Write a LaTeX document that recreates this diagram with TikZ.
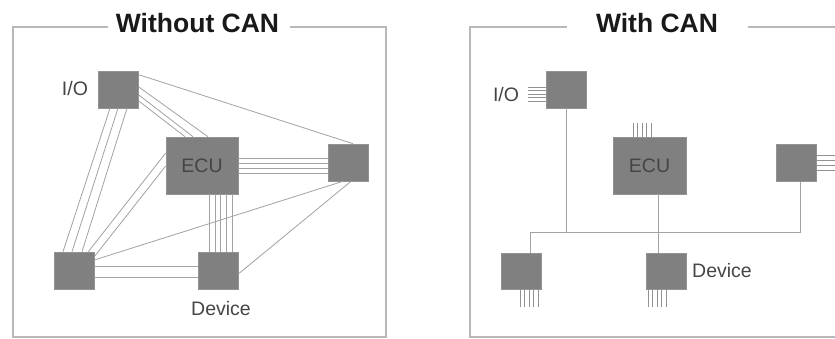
\documentclass[tikz,border=0pt]{standalone}
\usepackage{fontspec}
\setmainfont{Liberation Sans}
\usetikzlibrary{calc}
\definecolor{boxgray}{HTML}{808080}
\definecolor{wiregray}{HTML}{A2A2A2}
\definecolor{framegray}{HTML}{B8B8B8}
\definecolor{labelgray}{HTML}{454545}
\tikzset{
  chip/.style={draw=boxgray!85!white, line width=0.6pt, fill=boxgray, inner sep=0pt, minimum width=40pt, minimum height=37pt},
  bigchip/.style={chip, minimum width=72pt, minimum height=57pt},
  wire/.style={draw=wiregray, line width=0.8pt},
  pinline/.style={draw=wiregray!90!black, line width=0.7pt},
  frameline/.style={draw=framegray, line width=2.6pt},
  lbl/.style={text=labelgray, font=\fontsize{19.5}{20}\selectfont, inner sep=0pt},
  ttl/.style={text=black!90, font=\fontsize{26.5}{27}\selectfont\bfseries, inner sep=0pt}
}
\begin{document}
\begin{tikzpicture}[x=1pt,y=-1pt]
\useasboundingbox (0,0) rectangle (835,338);
\fill[white] (0,0) rectangle (835,338);

% ---------------- Left panel: Without CAN ----------------
\draw[frameline] (108,27) -- (13,27) -- (13,337) -- (386,337) -- (386,27) -- (290,27);
\node[ttl] (t1) at (197.5,23) {Without CAN};

\node[chip] (io1) at (118.5,89.5) {};
\node[bigchip] (ecu1) at (202,165.5) {};
\node[chip] (r1) at (348,162.5) {};
\node[chip] (bl1) at (74,270.5) {};
\node[chip] (dev1) at (218,271) {};

% I/O -> ECU bundle
\draw[wire] (io1.east |- 0,87) -- (ecu1.north -| 208,0);
\draw[wire] (io1.east |- 0,95) -- (ecu1.north -| 193,0);
\draw[wire] (io1.east |- 0,101) -- (ecu1.north -| 185,0);
% I/O -> bottom-left bundle
\draw[wire] (io1.south -| 110,0) -- (bl1.north -| 63,0);
\draw[wire] (io1.south -| 118,0) -- (bl1.north -| 72,0);
\draw[wire] (io1.south -| 127,0) -- (bl1.north -| 82,0);
% I/O -> right box
\draw[wire] ($(io1.north east)+(0,4)$) -- ($(r1.north)+(5,0)$);
% bottom-left -> ECU
\draw[wire] ($(bl1.north east)+(-6,0)$) -- (ecu1.west |- 0,153);
\draw[wire] ($(bl1.north east)+(0,5)$) -- (ecu1.west |- 0,166);
% bottom-left -> right box
\draw[wire] (bl1.east |- 0,260) -- ($(r1.south)+(-5,0)$);
% bottom-left -> device
\foreach \y in {266,277} \draw[wire] (bl1.east |- 0,\y) -- (dev1.west |- 0,\y);
% ECU -> device
\foreach \x in {209,215,220,226,232} \draw[wire] (ecu1.south -| \x,0) -- (dev1.north -| \x,0);
% ECU -> right box
\foreach \y in {158,163,168,173} \draw[wire] (ecu1.east |- 0,\y) -- (r1.west |- 0,\y);
% device -> right box
\draw[wire] (dev1.east |- 0,274) -- ($(r1.south)+(3,0)$);

\node[lbl] at (ecu1.center) {ECU};
\node[lbl] (iol1) at (75,89) {I/O};
\node[lbl] (devl1) at (221,309) {Device};

% ---------------- Right panel: With CAN ----------------
\draw[frameline] (567,27) -- (470,27) -- (470,337) -- (835,337);
\draw[frameline] (748,27) -- (835,27);
\node[ttl] (t2) at (657,23) {With CAN};

\node[chip] (io2) at (566,89.5) {};
\node[bigchip, minimum width=73pt] (ecu2) at (649.5,165.5) {};
\node[chip] (r2) at (796,163) {};
\node[chip, minimum height=36pt] (bl2) at (521.5,271) {};
\node[chip, minimum height=36pt] (dev2) at (666,271) {};

\coordinate (busL) at (530,232.5);
\coordinate (busR) at (800.5,232.5);
\draw[wire] (busL) -- (busR);
\draw[wire] (io2.south -| 566,0) -- (busL -| 566,0);
\draw[wire] (ecu2.south -| 658.7,0) -- (dev2.north -| 658.7,0);
\draw[wire] (busL) -- (bl2.north -| busL);
\draw[wire] (r2.south -| busR) -- (busR);

% pins
\foreach \y in {87,90.5,94,97.5,101} \draw[pinline] (io2.west |- 0,\y) -- ++(-18,0);
\foreach \x in {633,637.5,642,646.5,651} \draw[pinline] (ecu2.north -| \x,0) -- ++(0,-14);
\foreach \y in {155,160,165,170} \draw[pinline] (r2.east |- 0,\y) -- (835,\y);
\foreach \x in {520,524.5,529,533.5,538} \draw[pinline] (bl2.south -| \x,0) -- ++(0,18);
\foreach \x in {648,652.5,657,661.5,666} \draw[pinline] (dev2.south -| \x,0) -- ++(0,18);

\node[lbl] at (ecu2.center) {ECU};
\node[lbl] (iol2) at (506,95) {I/O};
\node[lbl] (devl2) at (722,271) {Device};
\end{tikzpicture}
\end{document}
